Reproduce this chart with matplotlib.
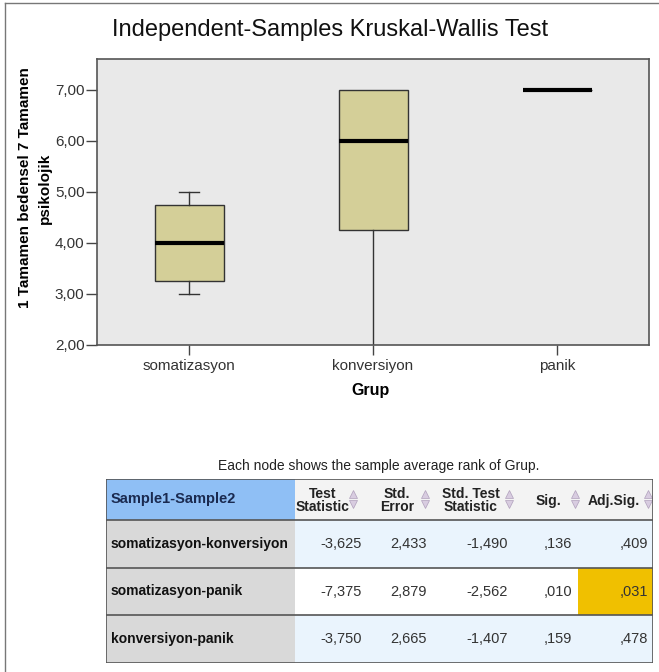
import matplotlib.pyplot as plt
from matplotlib.patches import Rectangle
from matplotlib.lines import Line2D

plt.rcParams['font.family'] = ['Liberation Sans', 'DejaVu Sans']

# box plot data (per group)
groups = ['somatizasyon', 'konversiyon', 'panik']
q1 = [3.25, 4.25, 7.0]
med = [4.0, 6.0, 7.0]
q3 = [4.75, 7.0, 7.0]
whis_lo = [3.0, 2.0, 7.0]
whis_hi = [5.0, 7.0, 7.0]
yticks = [2, 3, 4, 5, 6, 7]

# pairwise comparisons table
pairs = ['somatizasyon-konversiyon', 'somatizasyon-panik', 'konversiyon-panik']
test_stat = ['-3,625', '-7,375', '-3,750']
std_err = ['2,433', '2,879', '2,665']
std_test = ['-1,490', '-2,562', '-1,407']
sig = [',136', ',010', ',159']
adj_sig = [',409', ',031', ',478']
headers = ['Test\nStatistic', 'Std.\nError', 'Std. Test\nStatistic', 'Sig.', 'Adj.Sig.']

W, H = 659, 672
fig = plt.figure(figsize=(W / 100, H / 100), dpi=100)

def fx(px):
    return px / W

def fy(py):
    return 1 - py / H

# main box plot
ax = fig.add_axes([fx(97), fy(345), fx(649) - fx(97), fy(59) - fy(345)])
ax.set_facecolor('#e9e9e9')
stats = []
for i, g in enumerate(groups):
    stats.append(dict(label=g, med=med[i], q1=q1[i], q3=q3[i],
                      whislo=whis_lo[i], whishi=whis_hi[i], fliers=[]))
caps = [True, False, False]
for i, s in enumerate(stats):
    ax.bxp([s], positions=[i + 1], widths=0.375, patch_artist=True,
           showcaps=caps[i], capwidths=0.11,
           boxprops=dict(facecolor='#d4cf98', edgecolor='#333333', linewidth=1),
           medianprops=dict(color='black', linewidth=3, solid_capstyle='butt'),
           whiskerprops=dict(color='#333333', linewidth=1),
           capprops=dict(color='#333333', linewidth=1))
ax.set_xlim(0.5, 3.5)
ax.set_ylim(2, 7.6)
ax.set_xticks([1, 2, 3])
ax.set_xticklabels(groups, fontsize=11, color='#333333')
ax.set_yticks(yticks)
ax.set_yticklabels(['%d,00' % v for v in yticks], fontsize=11, color='#333333')
ax.tick_params(axis='y', length=8, width=1, pad=1, color='#444444')
ax.tick_params(axis='x', length=7, width=1, pad=3, color='#444444')
for sp in ax.spines.values():
    sp.set_color('#555555')
    sp.set_linewidth(1.2)

fig.text(fx(330), fy(30), 'Independent-Samples Kruskal-Wallis Test',
         ha='center', va='center', fontsize=17, color='#111111')
fig.text(fx(25), fy(188), '1 Tamamen bedensel 7 Tamamen', rotation=90,
         ha='center', va='center', fontsize=11, fontweight='bold')
fig.text(fx(45), fy(188), 'psikolojik', rotation=90,
         ha='center', va='center', fontsize=11, fontweight='bold')
fig.text(fx(371), fy(390), 'Grup', ha='center', va='center',
         fontsize=11.5, fontweight='bold')

# outer frame (left and top edges)
fig.add_artist(Line2D([fx(5), fx(5)], [fy(3), 0], color='#777777', lw=1))
fig.add_artist(Line2D([fx(5), 1], [fy(3), fy(3)], color='#777777', lw=1))

fig.text(fx(379), fy(466), 'Each node shows the sample average rank of Grup.',
         ha='center', va='center', fontsize=10, color='#222222')

# table, drawn in pixel coordinates
tx0, tx1, ty0, ty1 = 106, 653, 479, 663
tb = fig.add_axes([fx(tx0), fy(ty1), fx(tx1) - fx(tx0), fy(ty0) - fy(ty1)])
tb.set_xlim(tx0, tx1)
tb.set_ylim(ty1, ty0)
tb.axis('off')

col_edges = [106, 295, 370, 430, 515, 578, 653]
row_edges = [479, 520, 568, 615, 663]
head_centers = [323, 397, 471, 548, 614]
arrow_x = [353, 425, 509, 575, 648]
num_right = [362, 427, 508, 572, 648]

# header
tb.add_patch(Rectangle((col_edges[0], row_edges[0]), col_edges[1] - col_edges[0],
                       row_edges[1] - row_edges[0], facecolor='#8fbff5', edgecolor='none'))
tb.add_patch(Rectangle((col_edges[1], row_edges[0]), col_edges[-1] - col_edges[1],
                       row_edges[1] - row_edges[0], facecolor='#f3f3f3', edgecolor='none'))
tb.text(111, (row_edges[0] + row_edges[1]) / 2, 'Sample1-Sample2', ha='left', va='center',
        fontsize=10.5, fontweight='bold', color='#1a2a50')
for j, h in enumerate(headers):
    tb.text(head_centers[j], (row_edges[0] + row_edges[1]) / 2 + 1, h, ha='center', va='center',
            fontsize=10, fontweight='bold', color='#222222', linespacing=0.95)
    tb.plot(arrow_x[j], 494, marker='^', ms=6, color='#d8cce0', mec='#b0a0bc', mew=0.5)
    tb.plot(arrow_x[j], 504, marker='v', ms=6, color='#d8cce0', mec='#b0a0bc', mew=0.5)

row_bg = ['#eaf4fd', '#ffffff', '#eaf4fd']
cols = [test_stat, std_err, std_test, sig, adj_sig]
for i, p in enumerate(pairs):
    y0, y1 = row_edges[i + 1], row_edges[i + 2]
    yc = (y0 + y1) / 2
    tb.add_patch(Rectangle((col_edges[0], y0), col_edges[1] - col_edges[0], y1 - y0,
                           facecolor='#d9d9d9', edgecolor='none'))
    tb.add_patch(Rectangle((col_edges[1], y0), col_edges[-1] - col_edges[1], y1 - y0,
                           facecolor=row_bg[i], edgecolor='none'))
    if adj_sig[i] == ',031':
        tb.add_patch(Rectangle((col_edges[5], y0), col_edges[6] - col_edges[5], y1 - y0,
                               facecolor='#f0c000', edgecolor='none'))
    tb.text(111, yc, p, ha='left', va='center', fontsize=10, fontweight='bold', color='#111111')
    for j, c in enumerate(cols):
        tb.text(num_right[j], yc, c[i], ha='right', va='center', fontsize=10.5, color='#333333')

for r in row_edges:
    tb.plot([tx0, tx1], [r, r], color='#555555', lw=1.2)
tb.plot([tx0, tx0], [ty0, ty1], color='#555555', lw=1.2)
tb.plot([tx1, tx1], [ty0, ty1], color='#555555', lw=1.2)

fig.savefig('out.png', dpi=100)
